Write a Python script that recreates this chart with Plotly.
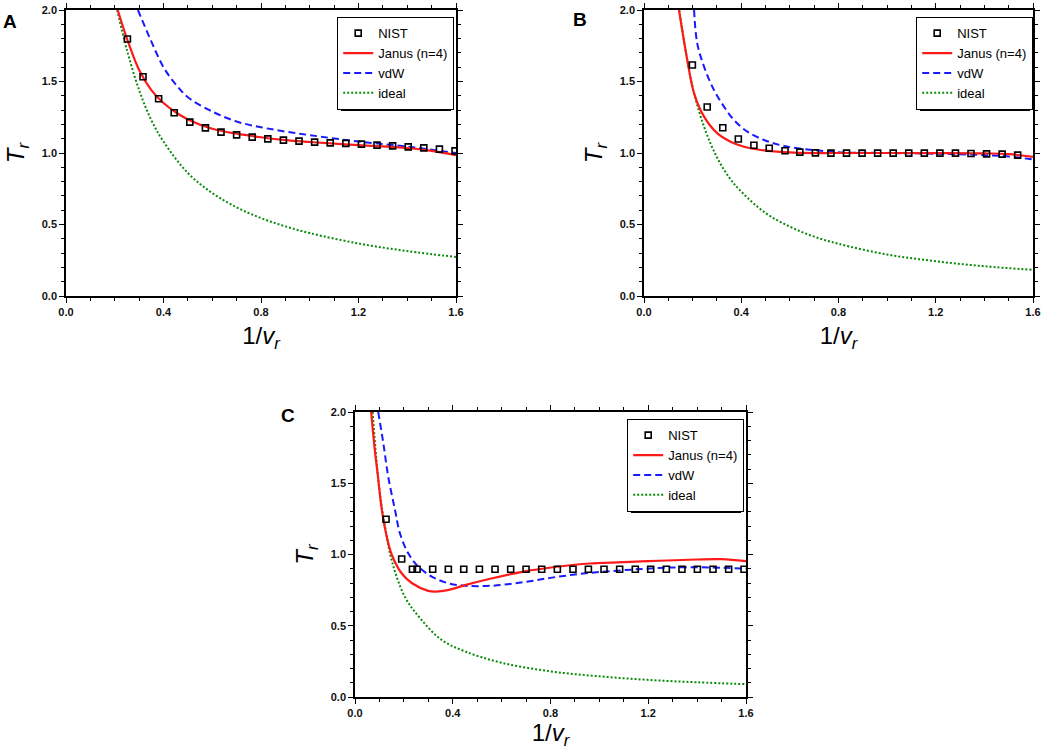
import plotly.graph_objects as go

# values: reduced density 1/v_r vs reduced temperature T_r

# panel A
a_nist_x = [0.252, 0.316, 0.380, 0.444, 0.508, 0.572, 0.636, 0.700, 0.764, 0.828, 0.892,
            0.956, 1.020, 1.084, 1.148, 1.212, 1.276, 1.340, 1.404, 1.468, 1.532, 1.596]
a_nist_y = [1.797, 1.533, 1.379, 1.281, 1.216, 1.176, 1.146, 1.127, 1.111, 1.099, 1.090,
            1.083, 1.076, 1.071, 1.067, 1.062, 1.055, 1.050, 1.043, 1.036, 1.027, 1.015]
a_janus_x = [0.212, 0.25, 0.3, 0.35, 0.4, 0.45, 0.5, 0.6, 0.7, 0.8, 0.9, 1.0, 1.2, 1.4, 1.5, 1.6]
a_janus_y = [2.0, 1.80, 1.58, 1.44, 1.35, 1.285, 1.235, 1.17, 1.135, 1.11, 1.09, 1.077, 1.055, 1.035, 1.015, 0.985]
a_vdw_x = [0.295, 0.35, 0.4, 0.45, 0.5, 0.6, 0.7, 0.8, 0.9, 1.0, 1.2, 1.4, 1.6]
a_vdw_y = [2.0, 1.78, 1.60, 1.48, 1.39, 1.29, 1.22, 1.18, 1.15, 1.125, 1.08, 1.045, 1.0]
a_ideal_x = [0.21, 0.25, 0.3, 0.35, 0.4, 0.5, 0.6, 0.7, 0.8, 0.9, 1.0, 1.2, 1.4, 1.6]
a_ideal_y = [2.0, 1.72, 1.44, 1.23, 1.08, 0.86, 0.72, 0.62, 0.545, 0.487, 0.44, 0.367, 0.314, 0.273]

# panel B
b_nist_x = [0.199, 0.260, 0.324, 0.388, 0.452, 0.515, 0.580, 0.641, 0.705, 0.769, 0.833,
            0.897, 0.961, 1.025, 1.089, 1.153, 1.217, 1.281, 1.345, 1.409, 1.473, 1.537]
b_nist_y = [1.615, 1.322, 1.177, 1.098, 1.054, 1.033, 1.016, 1.006, 1.001, 0.999, 0.999,
            0.999, 0.999, 0.999, 0.999, 0.999, 0.999, 0.999, 0.997, 0.994, 0.992, 0.985]
b_janus_x = [0.144, 0.178, 0.206, 0.247, 0.302, 0.356, 0.411, 0.48, 0.617, 0.8, 1.0, 1.2, 1.4, 1.5, 1.6]
b_janus_y = [2.0, 1.65, 1.417, 1.254, 1.137, 1.079, 1.044, 1.021, 1.002, 1.0, 1.0, 0.999, 0.997, 0.992, 0.973]
b_vdw_x = [0.206, 0.219, 0.247, 0.288, 0.329, 0.37, 0.425, 0.494, 0.576, 0.7, 0.8, 1.0, 1.2, 1.4, 1.5, 1.6]
b_vdw_y = [2.0, 1.767, 1.604, 1.44, 1.324, 1.231, 1.149, 1.091, 1.049, 1.02, 1.005, 1.0, 0.995, 0.985, 0.975, 0.955]
b_ideal_x = [0.145, 0.2, 0.25, 0.3, 0.35, 0.4, 0.5, 0.6, 0.7, 0.8, 1.0, 1.2, 1.4, 1.6]
b_ideal_y = [2.0, 1.46, 1.17, 0.97, 0.83, 0.73, 0.58, 0.485, 0.415, 0.365, 0.29, 0.243, 0.208, 0.183]

# panel C
c_nist_x = [0.127, 0.191, 0.235, 0.254, 0.318, 0.382, 0.445, 0.509, 0.573, 0.637, 0.700,
            0.764, 0.828, 0.892, 0.955, 1.019, 1.083, 1.147, 1.210, 1.274, 1.338, 1.401,
            1.465, 1.529, 1.592]
c_nist_y = [1.247, 0.968, 0.896, 0.896, 0.896, 0.896, 0.896, 0.896, 0.896, 0.896, 0.896,
            0.896, 0.896, 0.896, 0.896, 0.896, 0.896, 0.896, 0.896, 0.896, 0.896, 0.896,
            0.896, 0.896, 0.896]
c_janus_x = [0.066, 0.08, 0.094, 0.11, 0.127, 0.15, 0.19, 0.232, 0.30, 0.33, 0.38, 0.45,
             0.553, 0.69, 0.826, 0.962, 1.2, 1.4, 1.5, 1.6]
c_janus_y = [2.0, 1.75, 1.546, 1.31, 1.148, 1.0, 0.87, 0.80, 0.745, 0.74, 0.75, 0.785,
             0.83, 0.88, 0.914, 0.937, 0.953, 0.965, 0.967, 0.953]
c_vdw_x = [0.095, 0.116, 0.136, 0.164, 0.184, 0.218, 0.259, 0.314, 0.382, 0.45, 0.553,
           0.69, 0.826, 0.962, 1.1, 1.3, 1.51, 1.6]
c_vdw_y = [2.0, 1.78, 1.546, 1.31, 1.148, 1.008, 0.915, 0.845, 0.798, 0.781, 0.780,
           0.806, 0.843, 0.871, 0.89, 0.909, 0.907, 0.90]
c_ideal_x = [0.072, 0.1, 0.123, 0.15, 0.205, 0.273, 0.355, 0.45, 0.6, 0.8, 1.0, 1.2, 1.4, 1.6]
c_ideal_y = [2.0, 1.45, 1.195, 0.96, 0.70, 0.54, 0.40, 0.32, 0.24, 0.18, 0.145, 0.12, 0.103, 0.09]

panels = [
    ("A", "x", "y", "legend", a_nist_x, a_nist_y, a_janus_x, a_janus_y, a_vdw_x, a_vdw_y, a_ideal_x, a_ideal_y),
    ("B", "x2", "y2", "legend2", b_nist_x, b_nist_y, b_janus_x, b_janus_y, b_vdw_x, b_vdw_y, b_ideal_x, b_ideal_y),
    ("C", "x3", "y3", "legend3", c_nist_x, c_nist_y, c_janus_x, c_janus_y, c_vdw_x, c_vdw_y, c_ideal_x, c_ideal_y),
]

W, H = 1045, 750
# plot areas in pixels (left, right, top, bottom)
boxes = {"A": (66, 456, 10, 296), "B": (644, 1033, 10, 296), "C": (355, 746, 412, 697)}
legpos = {"A": (337, 17), "B": (916, 17), "C": (627, 419)}
labelpos = {"A": (10, 22), "B": (580, 20), "C": (288, 415)}
FONT = "Liberation Sans, Arial, sans-serif"

fig = go.Figure()
for name, xa, ya, leg, nx, ny, jx, jy, vx, vy, ix, iy in panels:
    fig.add_trace(go.Scatter(x=ix, y=iy, mode="lines", name="ideal", line_shape="spline",
                             line=dict(color="#0a8a0a", width=2, dash="2px,2px"),
                             xaxis=xa, yaxis=ya, legend=leg, legendrank=4))
    fig.add_trace(go.Scatter(x=vx, y=vy, mode="lines", name="vdW", line_shape="spline",
                             line=dict(color="#1a1aff", width=2, dash="7px,4px"),
                             xaxis=xa, yaxis=ya, legend=leg, legendrank=3))
    fig.add_trace(go.Scatter(x=jx, y=jy, mode="lines", name="Janus (n=4)", line_shape="spline",
                             line=dict(color="#ff1a1a", width=2.2),
                             xaxis=xa, yaxis=ya, legend=leg, legendrank=2))
    fig.add_trace(go.Scatter(x=nx, y=ny, mode="markers", name="NIST",
                             marker=dict(symbol="square-open", size=6, color="black",
                                         line=dict(width=1.6, color="black")),
                             xaxis=xa, yaxis=ya, legend=leg, legendrank=1))

axis_common = dict(showline=True, linecolor="black", linewidth=1.5, mirror="allticks",
                   ticks="outside", ticklen=5, tickwidth=1.3, tickcolor="black",
                   showgrid=False, zeroline=False, automargin=False,
                   tickfont=dict(family=FONT, size=11, color="#111111", weight="bold"))
minor_ticks = dict(dtick=0.1, ticks="outside", ticklen=3, tickcolor="black", tickwidth=1.2, showgrid=False)

layout = dict(template="none", width=W, height=H, margin=dict(l=0, r=0, t=0, b=0),
              plot_bgcolor="white", paper_bgcolor="white", showlegend=True)
shapes = []
annotations = []
LEG_W, LEG_H = 110, 90
for i, (name, xa, ya, leg, *_rest) in enumerate(panels):
    l, r, t, b = boxes[name]
    suffix = "" if i == 0 else str(i + 1)
    layout["xaxis" + suffix] = dict(axis_common, domain=[l / W, r / W], range=[0, 1.6],
                                    tickvals=[0, 0.4, 0.8, 1.2, 1.6],
                                    ticktext=["0.0", "0.4", "0.8", "1.2", "1.6"],
                                    minor=minor_ticks, anchor="y" + suffix,
                                    title=dict(text="1/<i>v<sub>r</sub></i>", standoff=10,
                                               font=dict(family=FONT, size=24, color="black")))
    layout["yaxis" + suffix] = dict(axis_common, domain=[1 - b / H, 1 - t / H], range=[0, 2],
                                    tickvals=[0, 0.5, 1.0, 1.5, 2.0],
                                    ticktext=["0.0", "0.5", "1.0", "1.5", "2.0"],
                                    minor=minor_ticks, anchor="x" + suffix,
                                    title=dict(text="<i>T<sub>r</sub></i>", standoff=10,
                                               font=dict(family=FONT, size=24, color="black")))
    lx, ly = legpos[name]
    layout[leg] = dict(x=lx / W, y=1 - ly / H, xanchor="left", yanchor="top",
                       bgcolor="white", bordercolor="black", borderwidth=1.2,
                       font=dict(family=FONT, size=13, color="black"),
                       tracegroupgap=0, itemwidth=30, traceorder="normal")
    # drop shadow of the legend box
    shapes.append(dict(type="rect", xref="paper", yref="paper", layer="above",
                       x0=(lx + 4) / W, x1=(lx + LEG_W + 4) / W,
                       y0=1 - (ly + LEG_H + 4) / H, y1=1 - (ly + 4) / H,
                       fillcolor="black", line=dict(width=0)))
    px_, py_ = labelpos[name]
    annotations.append(dict(text="<b>" + name + "</b>", xref="paper", yref="paper",
                            x=px_ / W, y=1 - py_ / H, xanchor="center", yanchor="middle",
                            showarrow=False, font=dict(family=FONT, size=19, color="black")))
layout["shapes"] = shapes
layout["annotations"] = annotations
fig.update_layout(**layout)

# drop the browser's default page margin so the figure sits at the window corner
fig.write_html("out.html", config={"displayModeBar": False},
               post_script="document.body.style.margin='0px';")
